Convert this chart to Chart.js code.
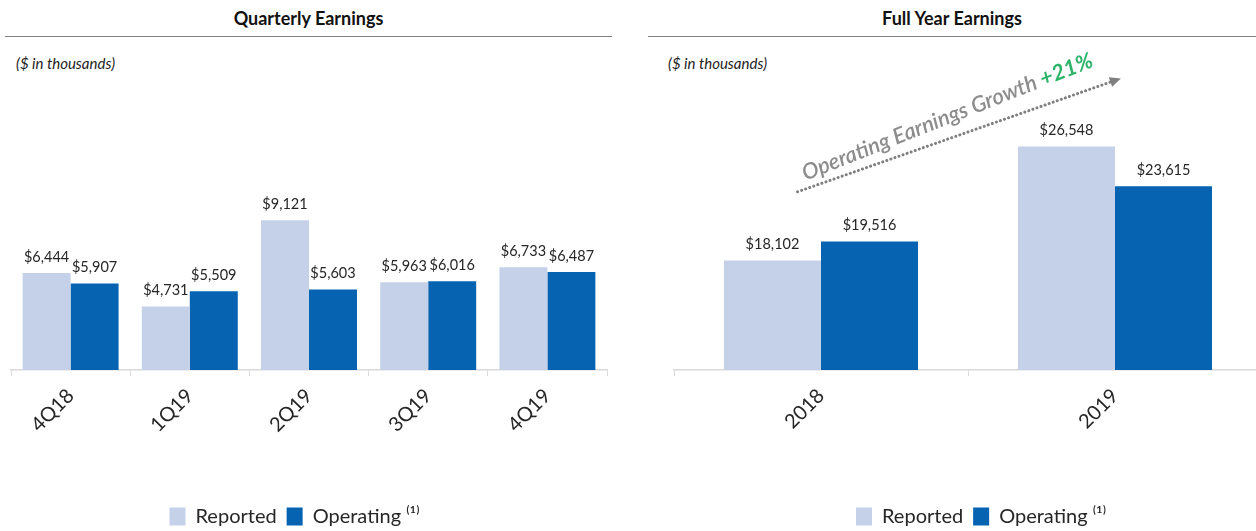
<!DOCTYPE html>
<html>
<head>
<meta charset="utf-8">
<script src="https://cdn.jsdelivr.net/npm/chart.js@4.4.1/dist/chart.umd.min.js"></script>
<style>
  html, body { margin: 0; padding: 0; background: #fff; }
  body { width: 1256px; height: 531px; position: relative; overflow: hidden; font-family: Lato, "Open Sans", sans-serif; }
  .title { position: absolute; top: 6px; height: 30px; border-bottom: 1.5px solid #808080; text-align: center; font-weight: bold; font-size: 18px; color: #111; line-height: 24px; }
  .units { position: absolute; top: 54px; font-style: italic; font-size: 15px; color: #222; }
  .box { position: absolute; top: 0; height: 540px; }
</style>
</head>
<body>
<div class="title" style="left:5px; width:607px;">Quarterly Earnings</div>
<div class="title" style="left:648px; width:608px;">Full Year Earnings</div>
<div class="units" style="left:16px;">($ in thousands)</div>
<div class="units" style="left:668px;">($ in thousands)</div>
<div class="box" style="left:-20px; width:640px;"><canvas id="quarterChart"></canvas></div>
<div class="box" style="left:640px; width:660px;"><canvas id="yearChart"></canvas></div>
<script>
const quarters = ["4Q18", "1Q19", "2Q19", "3Q19", "4Q19"];
const quarterReported = [6444, 4731, 9121, 5963, 6733];
const quarterOperating = [5907, 5509, 5603, 6016, 6487];

const years = ["2018", "2019"];
const yearReported = [18102, 26548];
const yearOperating = [19516, 23615];

const seriesNames = ["Reported", "Operating \u207D\u00B9\u207E"];
const lightBlue = "#c5d1e9";
const darkBlue = "#0563b1";
const axisGrey = "#d9d9d9";
const fontName = "Lato, 'Open Sans', sans-serif";

// labels "$6,444" above each bar
const valueLabels = {
    id: "valueLabels",
    afterDatasetsDraw(chart) {
        const ctx = chart.ctx;
        ctx.save();
        ctx.font = "14.5px " + fontName;
        ctx.fillStyle = "#262626";
        ctx.textAlign = "center";
        ctx.textBaseline = "middle";
        chart.data.datasets.forEach((ds, i) => {
            chart.getDatasetMeta(i).data.forEach((bar, j) => {
                ctx.fillText("$" + ds.data[j].toLocaleString("en-US"), bar.x, bar.y - 16);
            });
        });
        ctx.restore();
    }
};

// dotted growth arrow over the full year chart
const growthArrow = {
    id: "growthArrow",
    afterDraw(chart) {
        const x = chart.scales.x, y = chart.scales.y;
        if (!chart.options.plugins.growthArrow) return;
        const a = chart.options.plugins.growthArrow;
        const x0 = x.getPixelForValue(a.from[0]), y0 = y.getPixelForValue(a.from[1]);
        const x1 = x.getPixelForValue(a.to[0]), y1 = y.getPixelForValue(a.to[1]);
        const ang = Math.atan2(y1 - y0, x1 - x0);
        const ctx = chart.ctx;
        ctx.save();
        ctx.strokeStyle = "#7f7f7f";
        ctx.fillStyle = "#7f7f7f";
        ctx.lineWidth = 3;
        ctx.lineCap = "round";
        ctx.setLineDash([0.1, 4.2]);
        ctx.beginPath();
        ctx.moveTo(x0, y0);
        ctx.lineTo(x1 - 8 * Math.cos(ang), y1 - 8 * Math.sin(ang));
        ctx.stroke();
        ctx.setLineDash([]);
        ctx.translate(x1, y1);
        ctx.rotate(ang);
        ctx.beginPath();
        ctx.moveTo(0, 0);
        ctx.lineTo(-11, -5);
        ctx.lineTo(-11, 5);
        ctx.closePath();
        ctx.fill();
        ctx.restore();

        const growth = Math.round((yearOperating[1] / yearOperating[0] - 1) * 100);
        ctx.save();
        ctx.translate(x0 + 8, y0 - 11);
        ctx.rotate(ang - 0.04);
        ctx.textBaseline = "alphabetic";
        ctx.textAlign = "left";
        ctx.font = "italic 600 22px " + fontName;
        ctx.fillStyle = "#8c8c8c";
        const lead = "Operating Earnings Growth ";
        ctx.fillText(lead, 0, 0);
        const w = ctx.measureText(lead).width;
        ctx.font = "italic bold 22px " + fontName;
        ctx.fillStyle = "#2eb36b";
        ctx.fillText("+" + growth + "%", w, 0);
        ctx.restore();
    }
};

function makeChart(id, labels, reported, operating, yMin, yMax, catPct, yPos, yWidth, pad, extra) {
    const ctx = document.getElementById(id).getContext("2d");
    return new Chart(ctx, {
        type: "bar",
        data: {
            labels: labels,
            datasets: [
                { label: seriesNames[0], data: reported, backgroundColor: lightBlue },
                { label: seriesNames[1], data: operating, backgroundColor: darkBlue }
            ]
        },
        options: {
            responsive: true,
            maintainAspectRatio: false,
            animation: false,
            datasets: { bar: { categoryPercentage: catPct, barPercentage: 1.0 } },
            layout: { padding: pad },
            plugins: {
                legend: {
                    position: "bottom",
                    labels: {
                        boxWidth: 16, boxHeight: 18, padding: 10,
                        color: "#262626",
                        font: { family: fontName, size: 20 }
                    }
                },
                tooltip: { enabled: false },
                growthArrow: extra
            },
            scales: {
                x: {
                    grid: { offset: true, drawOnChartArea: false, tickLength: 6, color: axisGrey },
                    border: { color: axisGrey, width: 1.5 },
                    ticks: {
                        minRotation: 45, maxRotation: 45, padding: 8,
                        color: "#262626",
                        font: { family: fontName, size: 20 }
                    },
                    afterFit: (s) => { s.height = 126.5; }
                },
                y: {
                    min: yMin, max: yMax,
                    position: yPos,
                    ticks: { display: false },
                    grid: { display: false },
                    border: { display: false },
                    afterFit: (s) => { s.width = yWidth; }
                }
            }
        },
        plugins: [valueLabels, growthArrow]
    });
}

makeChart("quarterChart", quarters, quarterReported, quarterOperating,
    1500, 15250, 0.805, "left", 29, { left: 2, right: 13, top: 100, bottom: 3.5 }, null);

makeChart("yearChart", years, yearReported, yearOperating,
    10000, 30000, 0.66, "right", 26, { left: 34, right: 12, top: 100, bottom: 3.5 },
    { from: [-0.08, 23200], to: [1.02, 31600] });
</script>
</body>
</html>
